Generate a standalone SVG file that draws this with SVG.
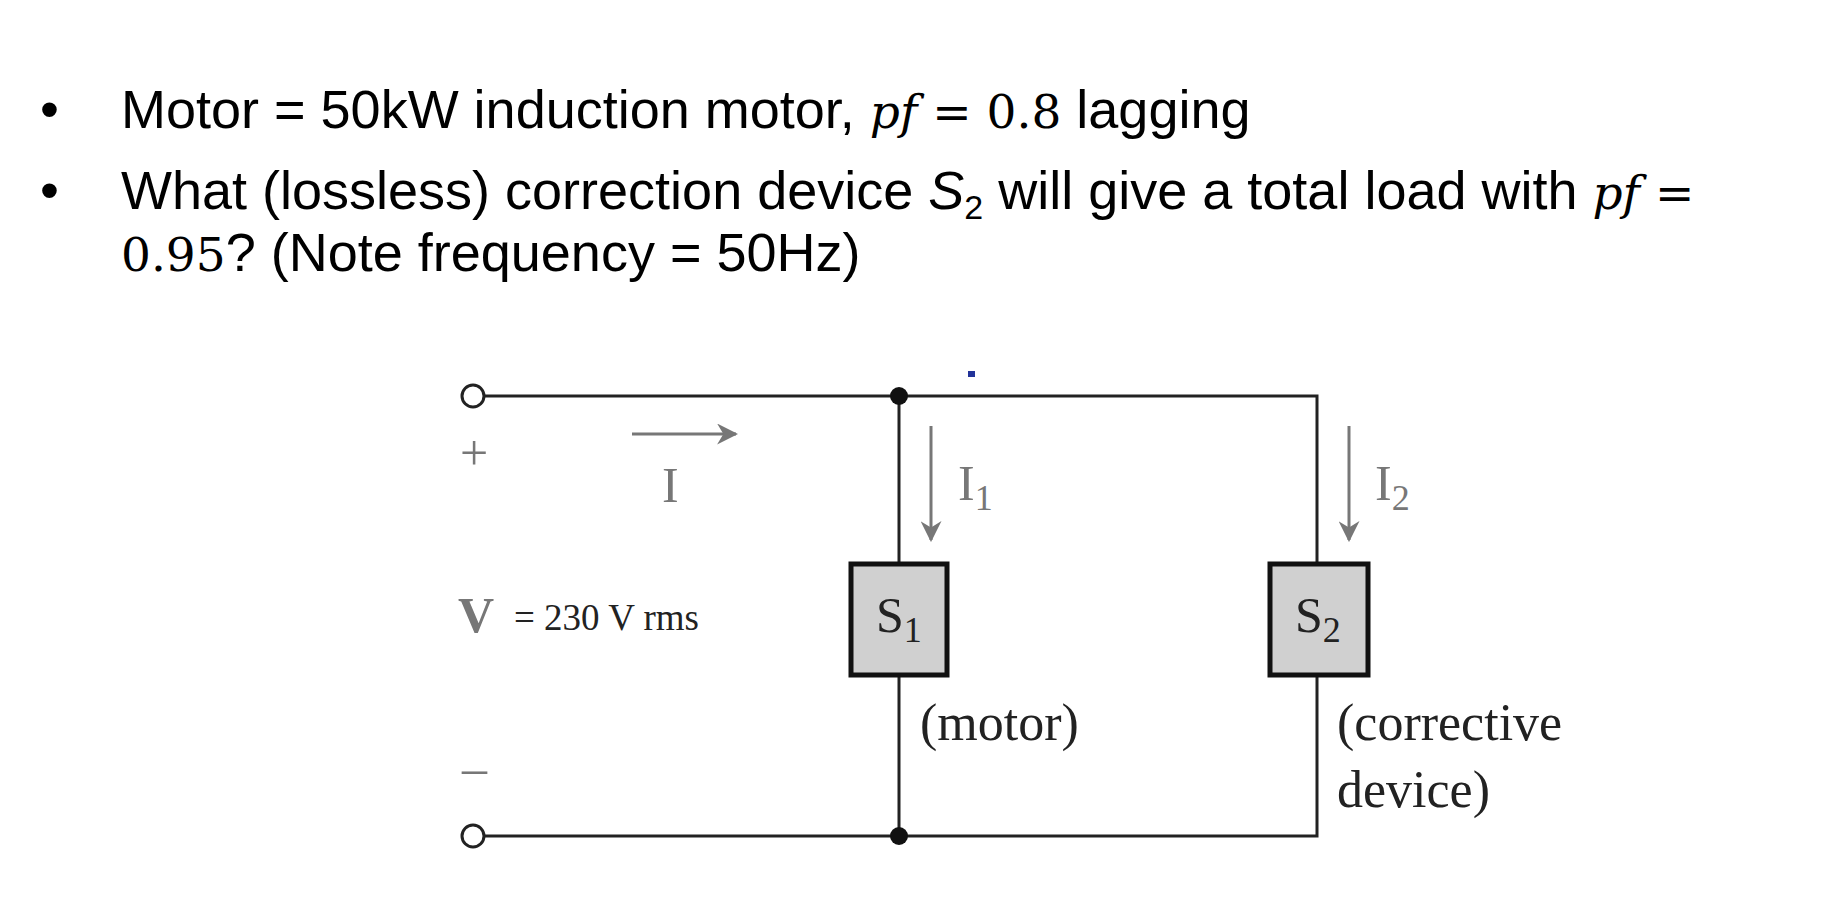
<svg xmlns="http://www.w3.org/2000/svg" width="1832" height="904" viewBox="0 0 1832 904">
<defs>
<style>
.t{font-family:"Liberation Sans",Arial,sans-serif;font-size:54px;fill:#000}
.m{font-family:"DejaVu Serif","Liberation Serif",serif;font-style:italic;font-size:47px}
.n{font-family:"DejaVu Serif","Liberation Serif",serif;font-size:47px}
.s{font-family:"Liberation Serif","Times New Roman",serif;font-size:50px;fill:#222}
.g{fill:#777}
.w{stroke:#222;stroke-width:3;fill:none}
.a{stroke:#777;stroke-width:3}
.box{fill:#d0d0d0;stroke:#111;stroke-width:5}
</style>
<marker id="ah" viewBox="0 0 10 10" refX="9" refY="5" markerWidth="7" markerHeight="7" orient="auto"><path d="M0,0 L10,5 L0,10 L3,5 z" fill="#777"/></marker>
</defs>
<rect width="1832" height="904" fill="#fff"/>
<g id="text">
<text class="t" x="40" y="128">•</text>
<text class="t" x="121" y="128">Motor = 50kW induction motor, <tspan class="m">pf</tspan><tspan class="n"> = 0.8</tspan> lagging</text>
<text class="t" x="40" y="209">•</text>
<text class="t" x="121" y="209">What (lossless) correction device <tspan font-style="italic">S</tspan><tspan font-size="34" dy="10">2</tspan><tspan dy="-10"> will give a total load with </tspan><tspan class="m">pf</tspan><tspan class="n"> =</tspan></text>
<text class="t" x="121" y="271"><tspan class="n">0.95</tspan>? (Note frequency = 50Hz)</text>
</g>
<g id="connectors">
<path class="w" d="M485,396 H1317 V836 H485"/>
<path class="w" d="M899,396 V562 M899,675 V836"/>
<line class="a" x1="632" y1="434" x2="736" y2="434" marker-end="url(#ah)"/>
<line class="a" x1="931" y1="426" x2="931" y2="540" marker-end="url(#ah)"/>
<line class="a" x1="1349" y1="426" x2="1349" y2="540" marker-end="url(#ah)"/>
</g>
<g id="terminal-top"><circle cx="473" cy="396" r="11" fill="#fff" stroke="#222" stroke-width="3"/></g>
<g id="terminal-bottom"><circle cx="473" cy="836" r="11" fill="#fff" stroke="#222" stroke-width="3"/></g>
<g id="node-top"><circle cx="899" cy="396" r="9" fill="#111"/></g>
<g id="node-bottom"><circle cx="899" cy="836" r="9" fill="#111"/></g>
<rect x="968" y="371" width="7" height="6" fill="#223399"/>
<g id="S1"><rect class="box" x="851" y="564" width="96" height="111"/><text class="s" x="876" y="632">S<tspan font-size="36" dy="10">1</tspan></text></g>
<g id="S2"><rect class="box" x="1270" y="564" width="98" height="111"/><text class="s" x="1295" y="632">S<tspan font-size="36" dy="10">2</tspan></text></g>
<g id="labels">
<text class="s g" x="662" y="502">I</text>
<text class="s g" x="958" y="500">I<tspan font-size="36" dy="10">1</tspan></text>
<text class="s g" x="1375" y="500">I<tspan font-size="36" dy="10">2</tspan></text>
<text class="s g" x="460" y="470">+</text>
<text class="s g" x="462" y="785">–</text>
<text class="s g" x="458" y="632" font-weight="bold">V</text>
<text class="s" x="514" y="630" style="font-size:37px">= 230 V rms</text>
<text class="s" x="920" y="740" style="font-size:52px">(motor)</text>
<text class="s" x="1337" y="740" style="font-size:52px">(corrective</text>
<text class="s" x="1337" y="807" style="font-size:52px">device)</text>
</g>
</svg>
